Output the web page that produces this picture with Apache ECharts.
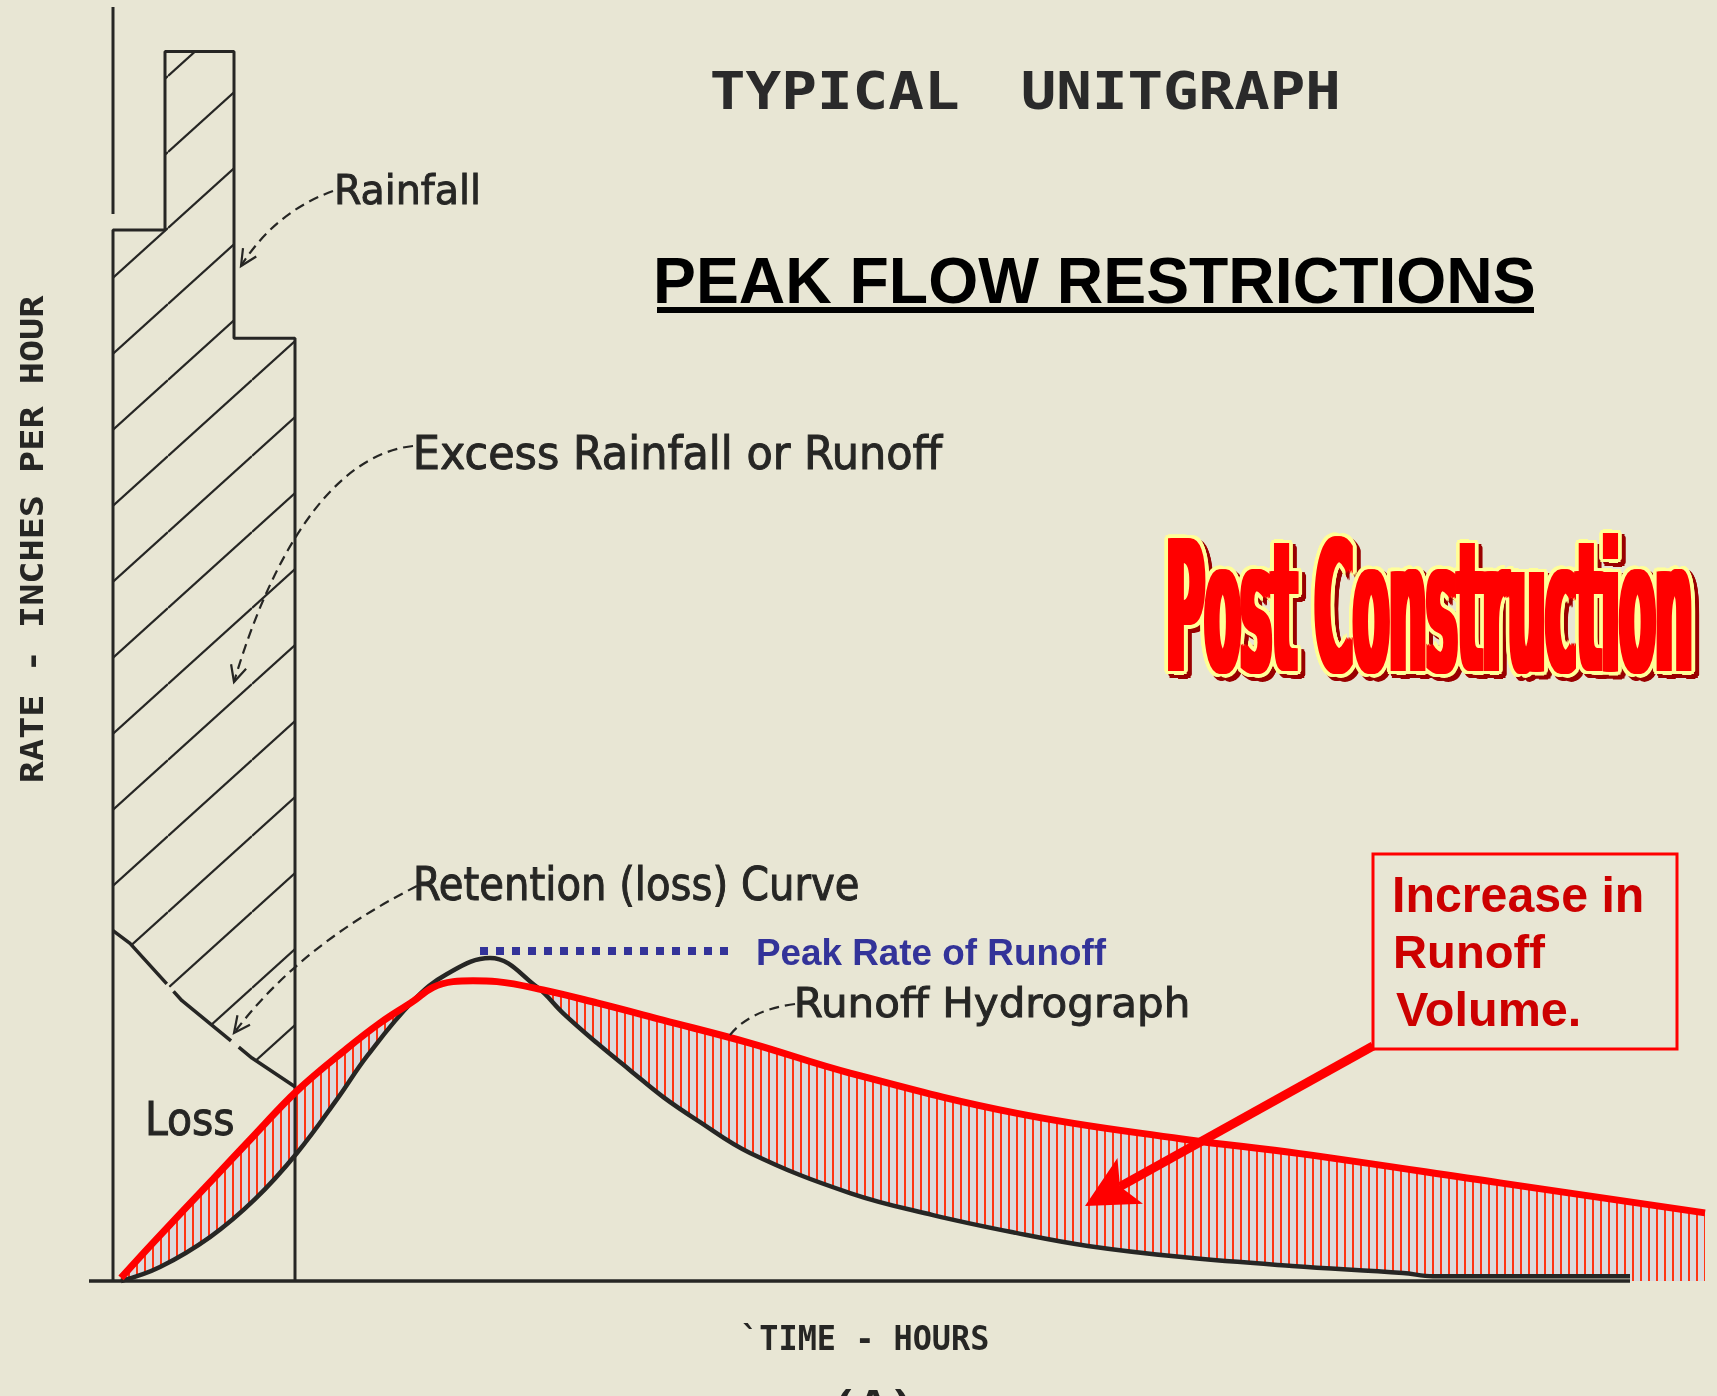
<!DOCTYPE html>
<html><head><meta charset="utf-8">
<script src="https://cdn.jsdelivr.net/npm/echarts@6/dist/echarts.min.js"></script>
<style>html,body{margin:0;padding:0;background:#e8e6d4;}#c{width:1717px;height:1396px;}</style>
</head><body><div id="c"></div>
<script>
// ---------------- DATA (time in hours, rate in inches per hour) ----------------
// Rainfall hyetograph blocks
const rainEdges = [0, 0.52, 1.21, 1.82];
const rainRates = [3.30, 3.86, 2.96];
// Retention (loss) curve
const retentionT = [0, 0.17, 0.69, 1.39, 1.82];
const retentionR = [1.10, 1.06, 0.88, 0.70, 0.61];
// Typical (pre-construction) runoff hydrograph
const preT = [0.08, 0.47, 0.97, 1.42, 1.84, 2.25, 2.54, 3.00, 3.34, 3.77, 4.24, 4.50, 4.84, 5.17, 5.50, 5.84, 6.37, 7.37, 8.20, 9.03, 9.75, 10.69, 11.79, 12.90, 13.20, 15.17];
const preQ = [0.000, 0.044, 0.138, 0.257, 0.402, 0.575, 0.706, 0.879, 0.964, 1.014, 0.923, 0.841, 0.747, 0.662, 0.578, 0.505, 0.402, 0.276, 0.207, 0.151, 0.110, 0.075, 0.047, 0.025, 0.015, 0.015];
// Post-construction runoff hydrograph
const postT = [0.08, 0.40, 1.00, 1.42, 1.84, 2.34, 2.67, 3.00, 3.20, 3.40, 3.60, 3.84, 4.30, 4.84, 5.50, 6.37, 7.37, 9.03, 10.69, 11.87, 13.87, 15.92];
const postQ = [0.010, 0.120, 0.320, 0.460, 0.597, 0.730, 0.810, 0.878, 0.922, 0.940, 0.943, 0.940, 0.914, 0.873, 0.819, 0.747, 0.653, 0.527, 0.446, 0.400, 0.308, 0.214];
// Peak rate marker
const peakMarkT = [3.67, 6.15];
const peakMarkQ = [1.036, 1.036];
// Axis extents
const xAxisT = [-0.24, 15.17];
const yAxisTopR = [3.35, 4.0];

// ---------------- STYLE ----------------
const BG = '#e8e6d4';
const INK = '#262624';
const zip = (a, b) => a.map((v, i) => [v, b[i]]);

function hatchPattern() {
  const c = document.createElement('canvas'); c.width = 84; c.height = 76;
  const g = c.getContext('2d'); g.strokeStyle = INK; g.lineWidth = 2.2;
  for (let k = -1; k <= 1; k++) { g.beginPath(); g.moveTo(0, 76 + 76 * k); g.lineTo(84, 76 * k); g.stroke(); }
  return c;
}
function stripePattern() {
  const c = document.createElement('canvas'); c.width = 8; c.height = 8;
  const g = c.getContext('2d'); g.fillStyle = '#dadadd'; g.fillRect(0, 0, 8, 8);
  g.fillStyle = '#ff3414'; g.fillRect(0, 0, 2, 8);
  return c;
}
const hatchCanvas = hatchPattern();
const stripeCanvas = stripePattern();

// hyetograph outline
const rainOutline = [[rainEdges[0], 0]];
rainRates.forEach((r, i) => { rainOutline.push([rainEdges[i], r]); rainOutline.push([rainEdges[i + 1], r]); });
rainOutline.push([rainEdges[rainEdges.length - 1], 0]);

function renderExcess(params, api) {
  const pts = [];
  for (let i = 0; i < rainRates.length; i++) {
    pts.push(api.coord([rainEdges[i], rainRates[i]]));
    pts.push(api.coord([rainEdges[i + 1], rainRates[i]]));
  }
  for (let i = retentionT.length - 1; i >= 0; i--) pts.push(api.coord([retentionT[i], retentionR[i]]));
  return { type: 'polygon', shape: { points: pts }, style: { fill: { image: hatchCanvas, repeat: 'repeat' }, stroke: null } };
}

// ---------------- TEXT HELPERS ----------------
const mctx = document.createElement('canvas').getContext('2d');
function fit(text, font) {
  mctx.font = font; mctx.textAlign = 'left'; mctx.textBaseline = 'middle';
  const m = mctx.measureText(text), h = mctx.measureText('H');
  return { capAsc: h.actualBoundingBoxAscent, capH: h.actualBoundingBoxAscent + h.actualBoundingBoxDescent,
           inkL: m.actualBoundingBoxLeft, inkW: m.actualBoundingBoxLeft + m.actualBoundingBoxRight };
}
function label(text, font, fill, l, r, t, b, extraStyle, dx, dy) {
  const f = fit(text, font);
  const sy = (b - t) / f.capH;
  const sx = r != null ? (r - l) / f.inkW : sy;
  return { type: 'text', x: l + f.inkL * sx + (dx || 0), y: t + f.capAsc * sy + (dy || 0), scaleX: sx, scaleY: sy,
           originX: 0, originY: 0, z: 100, silent: true,
           style: Object.assign({ text: text, font: font, fill: fill, align: 'left', verticalAlign: 'middle' }, extraStyle || {}) };
}
function vlabel(text, font, fill, bottom, top, capLeft, capRight) {
  const f = fit(text, font);
  const sx = (bottom - top) / f.inkW, sy = (capRight - capLeft) / f.capH;
  return { type: 'text', x: capLeft + f.capAsc * sy, y: bottom - f.inkL * sx, rotation: Math.PI / 2,
           scaleX: sx, scaleY: sy, originX: 0, originY: 0, z: 100, silent: true,
           style: { text: text, font: font, fill: fill, align: 'left', verticalAlign: 'middle' } };
}
function arrowHead(tip, from, len, ang) {
  const dx = from[0] - tip[0], dy = from[1] - tip[1], d = Math.hypot(dx, dy);
  const ux = dx / d, uy = dy / d;
  const rot = a => [tip[0] + len * (ux * Math.cos(a) - uy * Math.sin(a)), tip[1] + len * (ux * Math.sin(a) + uy * Math.cos(a))];
  return [rot(ang), tip, rot(-ang)];
}

const LET = "44px 'DejaVu Sans Condensed', 'DejaVu Sans', sans-serif";
const MONO = "bold 54px 'DejaVu Sans Mono', monospace";
const MONO2 = "bold 34px 'DejaVu Sans Mono', monospace";
const ARB = "bold 48px 'Liberation Sans', Arial, sans-serif";
const PCF = "bold 100px 'Liberation Sans Narrow', 'DejaVu Sans Condensed', sans-serif";
const dashStyle = { stroke: INK, lineWidth: 2.2, lineDash: [10, 6], fill: null };
const solidStyle = { stroke: INK, lineWidth: 2.2, fill: null };
const letStroke = { stroke: INK, lineWidth: 0.9 };

const G = [];
// titles
G.push(label('TYPICAL', MONO, '#2a2a2a', 712, 958, 72, 110));
G.push(label('UNITGRAPH', MONO, '#2a2a2a', 1023, 1337, 72, 110));
G.push(label('PEAK FLOW RESTRICTIONS', "bold 64px 'Liberation Sans', Arial, sans-serif", '#000000', 657, 1534, 257, 303));
G.push({ type: 'rect', z: 100, silent: true, shape: { x: 657, y: 307, width: 877, height: 6 }, style: { fill: '#000000' } });

// Post Construction: shadow, yellow outline, emboldened red body (screen-space offsets keep outline even)
(function () {
  const base = [1171, 1689, 538, 671];
  const ring = [];
  for (let i = 0; i < 16; i++) {
    const a = i * Math.PI / 8, c = Math.cos(a), s = Math.sin(a);
    ring.push([(c >= 0 ? 3 : -3) + 3.6 * c, 3.6 * s]);
  }
  ring.forEach(o => G.push(label('Post Construction', PCF, '#9a0000', base[0], base[1], base[2], base[3], null, o[0] + 4, o[1] + 4)));
  ring.forEach(o => G.push(label('Post Construction', PCF, '#ffff99', base[0], base[1], base[2], base[3], null, o[0], o[1])));
  [-3, -1.5, 0, 1.5, 3].forEach(dx => G.push(label('Post Construction', PCF, '#ff0000', base[0], base[1], base[2], base[3], null, dx, 0)));
})();

// lettering labels
G.push(label('Rainfall', LET, INK, 337, 478, 173, 204, letStroke));
G.push(label('Excess Rainfall or Runoff', LET, INK, 416, 944, 435, 469, letStroke));
G.push(label('Retention (loss) Curve', LET, INK, 416, 858, 866, 900, letStroke));
G.push(label('Runoff Hydrograph', LET, INK, 797, 1187, 986, 1017, letStroke));
G.push(label('Loss', LET, INK, 148, 233, 1100, 1135, letStroke));
G.push(label('Peak Rate of Runoff', "bold 36px 'Liberation Sans', Arial, sans-serif", '#333399', 758, 1107, 939, 965));
// axis titles
G.push(vlabel('RATE - INCHES PER HOUR', MONO2, INK, 781, 295, 20, 43));
G.push(label('`TIME - HOURS', MONO2, INK, 743, 988, 1325, 1350));
G.push(label('(A)', MONO2, INK, 838, 909, 1390, 1416));
// leaders
function leader(p0, c1, c2, p3, arrow) {
  const shape = { x1: p0[0], y1: p0[1], x2: p3[0], y2: p3[1], cpx1: c1[0], cpy1: c1[1] };
  if (c2) { shape.cpx2 = c2[0]; shape.cpy2 = c2[1]; }
  G.push({ type: 'bezierCurve', z: 100, silent: true, shape: shape, style: dashStyle });
  if (arrow) G.push({ type: 'polyline', z: 100, silent: true, shape: { points: arrowHead(p3, c2 || c1, 18, 0.45) }, style: solidStyle });
}
leader([333, 191], [275, 212], null, [241, 266], true);
leader([413, 446], [330, 455], [270, 560], [234, 682], true);
leader([417, 886], [300, 945], null, [234, 1033], true);
leader([795, 1004], [750, 1010], null, [730, 1035], false);
// red box + arrow
G.push({ type: 'rect', z: 100, silent: true, shape: { x: 1373, y: 854, width: 304, height: 195 }, style: { fill: null, stroke: '#ff0000', lineWidth: 3 } });
G.push(label('Increase in', ARB, '#cc0000', 1395, 1642, 878, 912));
G.push(label('Runoff', ARB, '#cc0000', 1396, 1546, 936, 968));
G.push(label('Volume.', ARB, '#cc0000', 1396, 1579, 993, 1026));
(function () {
  const S = [1373, 1046], T = [1085, 1206];
  const dx = S[0] - T[0], dy = S[1] - T[1], d = Math.hypot(dx, dy), ux = dx / d, uy = dy / d;
  const N = [T[0] + 40 * ux, T[1] + 40 * uy];
  const hb = arrowHead(T, S, 58, 0.47);
  G.push({ type: 'line', z: 100, silent: true, shape: { x1: S[0], y1: S[1], x2: N[0], y2: N[1] }, style: { stroke: '#ff0000', lineWidth: 9, lineCap: 'butt' } });
  G.push({ type: 'polygon', z: 101, silent: true, shape: { points: [T, hb[0], N, hb[2]] }, style: { fill: '#ff0000', stroke: null } });
})();

// ---------------- CHART ----------------
const chart = echarts.init(document.getElementById('c'), null, { renderer: 'canvas', width: 1717, height: 1396 });
const common = { type: 'line', symbol: 'none', showSymbol: false, silent: true, clip: false, animation: false };
chart.setOption({
  backgroundColor: BG,
  animation: false,
  grid: { left: 63, top: 7, width: 1650, height: 1274 },
  xAxis: { type: 'value', min: -0.5, max: 16, show: false },
  yAxis: { type: 'value', min: 0, max: 4, show: false },
  series: [
    Object.assign({}, common, { name: 'post-area', data: zip(postT, postQ), smooth: 0.4, z: 1,
      lineStyle: { width: 0, opacity: 0 }, areaStyle: { color: { image: stripeCanvas, repeat: 'repeat' }, opacity: 1 } }),
    Object.assign({}, common, { name: 'pre-area', data: zip(preT, preQ), smooth: 0.4, z: 2,
      lineStyle: { width: 0, opacity: 0 }, areaStyle: { color: BG, opacity: 1 } }),
    { type: 'custom', name: 'excess', coordinateSystem: 'cartesian2d', data: [[0, 0]], renderItem: renderExcess, z: 3, silent: true, animation: false },
    Object.assign({}, common, { name: 'Runoff Hydrograph', data: zip(preT, preQ), smooth: 0.4, z: 4,
      lineStyle: { color: INK, width: 4.5 } }),
    Object.assign({}, common, { name: 'Retention', data: zip(retentionT, retentionR), smooth: false, z: 5,
      lineStyle: { color: INK, width: 3.5, type: [76, 10] } }),
    Object.assign({}, common, { name: 'Rainfall', data: rainOutline, z: 5,
      lineStyle: { color: INK, width: 3 } }),
    Object.assign({}, common, { name: 'x-axis', data: xAxisT.map(t => [t, 0]), z: 5,
      lineStyle: { color: INK, width: 3.5 } }),
    Object.assign({}, common, { name: 'y-axis', data: yAxisTopR.map(r => [0, r]), z: 5,
      lineStyle: { color: INK, width: 3 } }),
    Object.assign({}, common, { name: 'Post Construction', data: zip(postT, postQ), smooth: 0.4, z: 7,
      lineStyle: { color: '#ff0000', width: 7 } }),
    Object.assign({}, common, { name: 'Peak Rate', data: zip(peakMarkT, peakMarkQ), z: 7,
      lineStyle: { color: '#333399', width: 8, type: [8, 8], cap: 'butt' } })
  ],
  graphic: { elements: G }
});
</script>
</body></html>
